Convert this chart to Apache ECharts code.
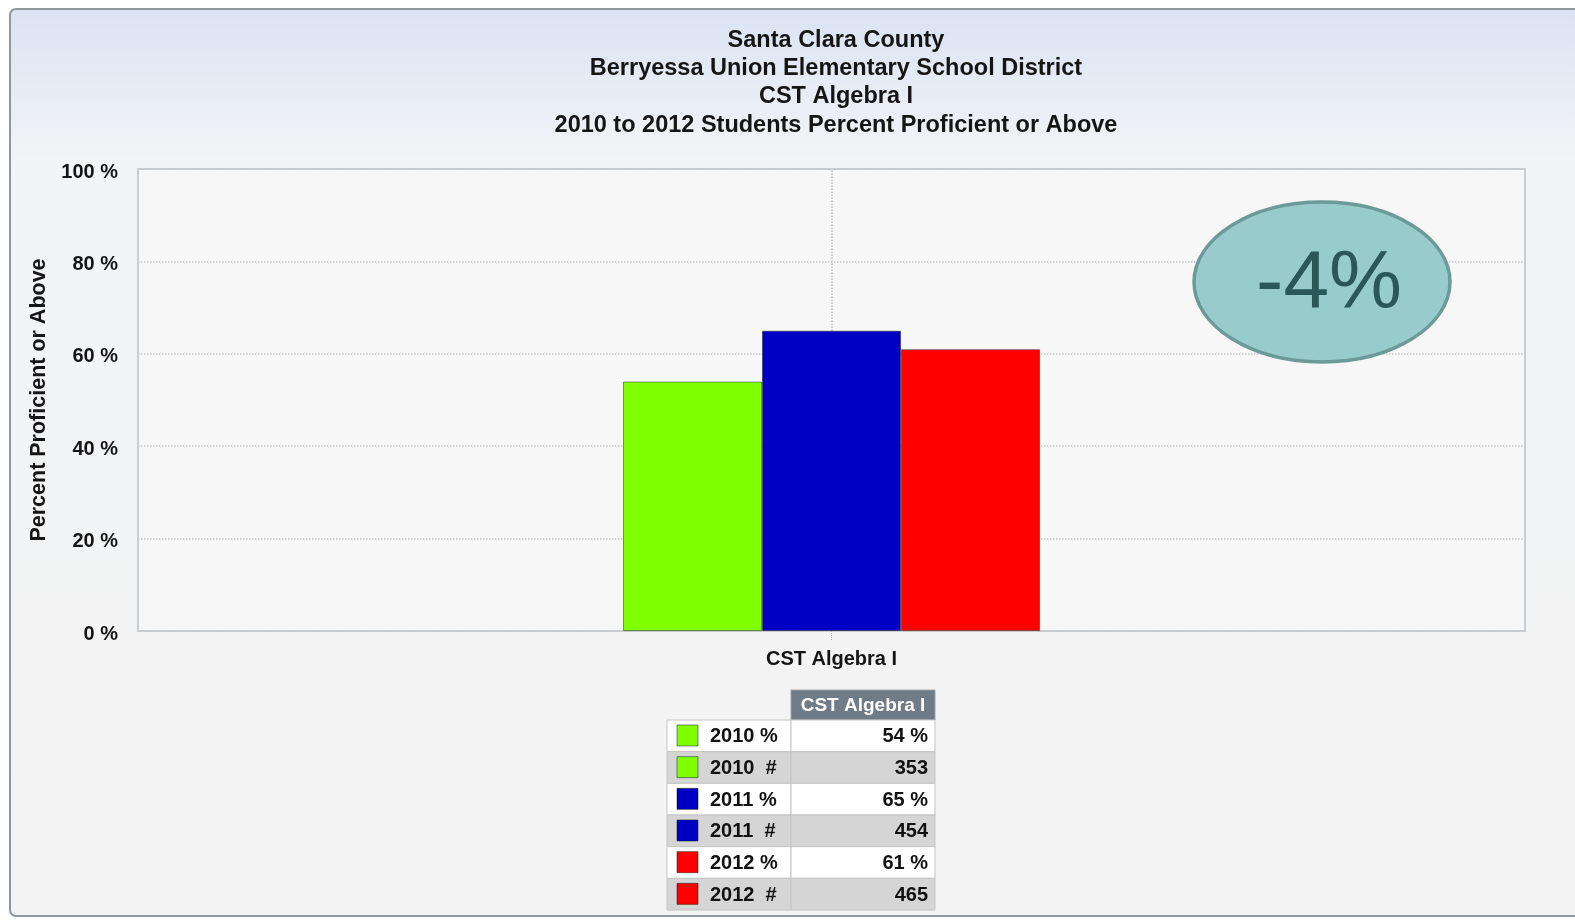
<!DOCTYPE html>
<html>
<head>
<meta charset="utf-8">
<script src="https://cdn.jsdelivr.net/npm/echarts@6/dist/echarts.min.js"></script>
<style>
html,body{margin:0;padding:0;background:#fff;}
#c{width:1575px;height:920px;}
</style>
</head>
<body>
<div id="c"></div>
<script>
// ---- data ----
const categories = ['CST Algebra I'];
const years = ['2010', '2011', '2012'];
const pctValues = [54, 65, 61];
const countValues = [353, 454, 465];
const yTicks = [0, 20, 40, 60, 80, 100];
const titleLines = [
  'Santa Clara County',
  'Berryessa Union Elementary School District',
  'CST Algebra I',
  '2010 to 2012 Students Percent Proficient or Above'
];
const yAxisName = 'Percent Proficient or Above';
const tableHeader = 'CST Algebra I';
const badgeText = '-4%';

// ---- styles ----
const seriesColors = ['#80ff00', '#0000c4', '#ff0000'];
const FONT = '"Liberation Sans", Arial, sans-serif';
const GRID = {left: 138, top: 169, width: 1387, height: 462};

const chart = echarts.init(document.getElementById('c'), null, {renderer: 'canvas'});

// table graphic built from data
const tbl = [];
const tX = 667, c0 = 124, c1 = 144, hY = 690, hH = 30, rH = 31.67;
tbl.push({type: 'rect', shape: {x: tX + c0, y: hY, width: c1, height: hH},
  style: {fill: '#6f7b86', stroke: '#9aa3ab', lineWidth: 1}});
tbl.push({type: 'text', style: {x: tX + c0 + c1 / 2, y: hY + hH / 2 + 1, text: tableHeader,
  fill: '#ffffff', font: 'bold 19px ' + FONT, textAlign: 'center', textVerticalAlign: 'middle'}});
const rows = [];
years.forEach((y, i) => {
  rows.push({label: y + ' %', value: pctValues[i] + ' %', color: seriesColors[i]});
  rows.push({label: y + '  #', value: String(countValues[i]), color: seriesColors[i]});
});
rows.forEach((r, k) => {
  const y0 = hY + hH + k * rH;
  const bg = k % 2 === 0 ? '#ffffff' : '#d5d5d5';
  tbl.push({type: 'rect', shape: {x: tX, y: y0, width: c0, height: rH},
    style: {fill: bg, stroke: '#c4c4c4', lineWidth: 1}});
  tbl.push({type: 'rect', shape: {x: tX + c0, y: y0, width: c1, height: rH},
    style: {fill: bg, stroke: '#c4c4c4', lineWidth: 1}});
  tbl.push({type: 'rect', shape: {x: tX + 10, y: y0 + 5, width: 21, height: 21},
    style: {fill: r.color, stroke: 'rgba(0,0,0,0.45)', lineWidth: 1}});
  tbl.push({type: 'text', style: {x: tX + 43, y: y0 + rH / 2 + 1, text: r.label,
    fill: '#111', font: 'bold 20px ' + FONT, textAlign: 'left', textVerticalAlign: 'middle'}});
  tbl.push({type: 'text', style: {x: tX + c0 + c1 - 7, y: y0 + rH / 2 + 1, text: r.value,
    fill: '#111', font: 'bold 20px ' + FONT, textAlign: 'right', textVerticalAlign: 'middle'}});
});

const barSeries = years.map((y, i) => ({
  type: 'bar',
  name: y,
  data: [pctValues[i]],
  barWidth: 139,
  barGap: '0%',
  itemStyle: {color: seriesColors[i], borderColor: 'rgba(0,0,0,0.4)', borderWidth: 1},
  z: 3
}));
// centre dotted guide line behind the bars
const guideSeries = {
  type: 'line', name: 'guide', data: [], z: 1, silent: true,
  markLine: {
    silent: true, symbol: 'none', label: {show: false}, z: 1,
    lineStyle: {color: '#c0c0c0', type: 'dotted', width: 1.5},
    data: [{xAxis: categories[0]}]
  }
};

const option = {
  backgroundColor: '#ffffff',
  animation: false,
  title: {
    text: titleLines.join('\n'),
    left: 831, top: 21,
    textAlign: 'center',
    textStyle: {fontFamily: FONT, fontWeight: 'bold', fontSize: 23.5, lineHeight: 28.4, color: '#151515'}
  },
  grid: Object.assign({
    show: true, backgroundColor: '#f7f7f7', borderColor: '#c9ced3', borderWidth: 2
  }, GRID),
  xAxis: {
    type: 'category',
    data: categories,
    axisLine: {show: false},
    axisTick: {show: true, alignWithLabel: true, length: 9, lineStyle: {color: '#b5b5b5', type: 'dotted'}},
    axisLabel: {margin: 18, fontFamily: FONT, fontWeight: 'bold', fontSize: 20, color: '#151515'},
    splitLine: {show: false}
  },
  yAxis: {
    type: 'value',
    min: yTicks[0], max: yTicks[yTicks.length - 1], interval: yTicks[1] - yTicks[0],
    name: yAxisName,
    nameLocation: 'middle',
    nameGap: 77,
    nameTextStyle: {fontFamily: FONT, fontWeight: 'bold', fontSize: 21.5, color: '#151515'},
    axisLine: {show: false},
    axisTick: {show: false},
    axisLabel: {formatter: '{value} %', margin: 20, verticalAlign: 'top', lineHeight: 6,
      fontFamily: FONT, fontWeight: 'bold', fontSize: 20, color: '#151515'},
    splitLine: {lineStyle: {color: '#c8c8c8', type: 'dotted', width: 1.5}}
  },
  series: [guideSeries].concat(barSeries),
  graphic: [
    {type: 'rect', z: -10, silent: true,
      shape: {x: 10, y: 9, width: 1600, height: 907, r: 6},
      style: {
        fill: new echarts.graphic.LinearGradient(0, 0, 0, 1, [
          {offset: 0, color: '#dae3f3'},
          {offset: 0.17, color: '#f3f4f6'},
          {offset: 1, color: '#f3f3f3'}
        ]),
        stroke: '#8d979f', lineWidth: 2
      }},
    {type: 'group', z: 10, children: tbl},
    {type: 'ellipse', z: 10, shape: {cx: 1322, cy: 282, rx: 128, ry: 80},
      style: {fill: '#98cccc', stroke: '#6b9a98', lineWidth: 3.5}},
    {type: 'text', z: 11, style: {x: 1329, y: 285, text: badgeText, fill: '#2a5757',
      font: '82px ' + FONT, textAlign: 'center', textVerticalAlign: 'middle'}}
  ]
};
chart.setOption(option);
</script>
</body>
</html>
